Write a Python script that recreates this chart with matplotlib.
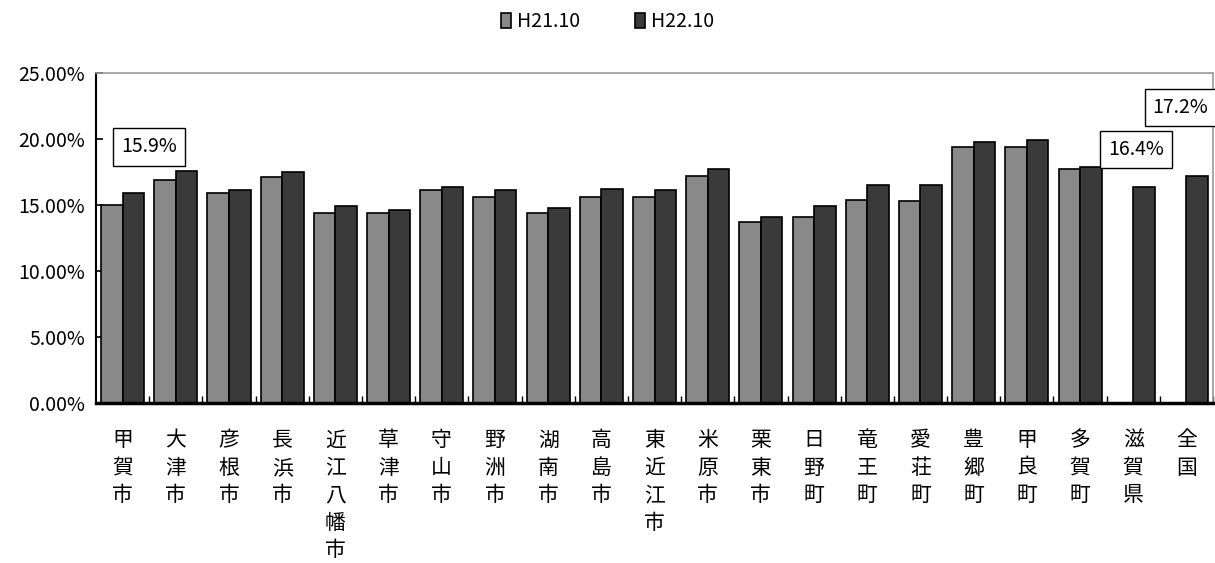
import numpy as np
import matplotlib
matplotlib.use("Agg")
import matplotlib.pyplot as plt
from matplotlib.patches import Patch

plt.rcParams['font.family'] = ['Noto Sans CJK JP', 'DejaVu Sans']

categories = ["甲賀市", "大津市", "彦根市", "長浜市", "近江八幡市", "草津市", "守山市", "野洲市",
              "湖南市", "高島市", "東近江市", "米原市", "栗東市", "日野町", "竜王町", "愛荘町",
              "豊郷町", "甲良町", "多賀町", "滋賀県", "全国"]
h21 = [15.0, 16.9, 15.9, 17.1, 14.4, 14.4, 16.1, 15.6, 14.4, 15.6, 15.6, 17.2, 13.7,
       14.1, 15.4, 15.3, 19.4, 19.4, 17.7, np.nan, np.nan]
h22 = [15.9, 17.6, 16.1, 17.5, 14.9, 14.6, 16.4, 16.1, 14.8, 16.2, 16.1, 17.7, 14.1,
       14.9, 16.5, 16.5, 19.8, 19.9, 17.9, 16.4, 17.2]
series_names = ["H21.10", "H22.10"]
yticks = [0, 5, 10, 15, 20, 25]
annotations = [("15.9%", 0.5, 19.4), ("16.4%", 19.06, 19.2), ("17.2%", 19.89, 22.4)]

c21 = "#898989"
c22 = "#3a3a3a"

fig = plt.figure(figsize=(12.15, 5.63), dpi=100)
ax = fig.add_axes([0.079, 0.2842, 0.9194, 0.5861])

x = np.arange(len(categories))
w = 0.405
ax.bar(x - w / 2, h21, width=w, color=c21, edgecolor="black", linewidth=1.2, zorder=2)
ax.bar(x + w / 2, h22, width=w, color=c22, edgecolor="black", linewidth=1.2, zorder=2)

ax.set_xlim(-0.5, len(categories) - 0.5)
ax.set_ylim(0, 25)
ax.set_yticks(yticks)
ax.set_yticklabels([f"{v:.2f}%" for v in yticks], fontsize=14)
ax.tick_params(axis='y', direction='in', length=5, width=1.2, pad=8)

ax.set_xticks(x)
ax.set_xticklabels(["\n".join(c) for c in categories], fontsize=15, linespacing=1.32, va='top')
ax.tick_params(axis='x', which='major', length=0, pad=19)
ax.set_xticks(np.arange(len(categories)) + 0.5, minor=True)
ax.tick_params(axis='x', which='minor', direction='in', length=5, width=1.0)

for s in ['top', 'right']:
    ax.spines[s].set_color('#9a9a9a')
    ax.spines[s].set_linewidth(1.2)
ax.spines['left'].set_color('black')
ax.spines['left'].set_linewidth(1.5)
ax.spines['bottom'].set_color('black')
ax.spines['bottom'].set_linewidth(2.5)

for txt, xa, ya in annotations:
    ax.text(xa, ya, txt, ha='center', va='center', fontsize=14, zorder=5,
            bbox=dict(boxstyle='square,pad=0.42', facecolor='white', edgecolor='black', linewidth=1.0),
            clip_on=False)

handles = [Patch(facecolor=c21, edgecolor='black', linewidth=1.2),
           Patch(facecolor=c22, edgecolor='black', linewidth=1.2)]
fig.legend(handles, series_names, loc='center', bbox_to_anchor=(0.5, 0.962), ncol=2,
           frameon=False, fontsize=14, handlelength=0.55, handleheight=0.8,
           handletextpad=0.3, columnspacing=2.8)

fig.savefig("out.png", dpi=100)
